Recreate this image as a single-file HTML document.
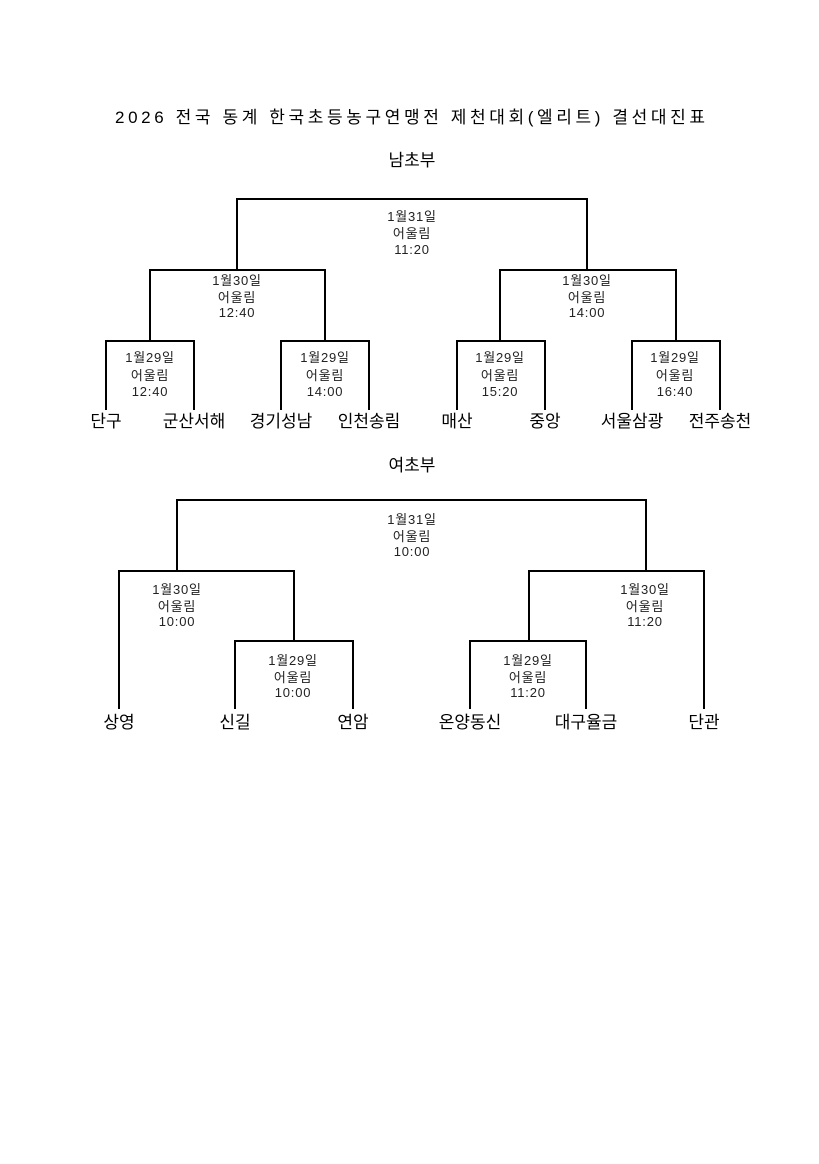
<!DOCTYPE html>
<html><head><meta charset="utf-8"><style>
html,body{margin:0;padding:0;background:#fff}
svg text{font-family:"Liberation Sans","Noto Sans CJK KR","NanumGothic",sans-serif}
</style></head><body>
<svg width="819" height="1159" xmlns="http://www.w3.org/2000/svg">
<g fill="none" stroke="#000" stroke-width="2">
<path d="M237,270 V199 H587 V270"/>
<path d="M150,341 V270 H325 V341"/>
<path d="M500,341 V270 H676 V341"/>
<path d="M106,410 V341 H194 V410"/>
<path d="M281,410 V341 H369 V410"/>
<path d="M457,410 V341 H545 V410"/>
<path d="M632,410 V341 H720 V410"/>
<path d="M177,571 V500 H646 V571"/>
<path d="M119,709 V571 H294 V641"/>
<path d="M235,709 V641 H353 V709"/>
<path d="M529,641 V571 H704 V709"/>
<path d="M470,709 V641 H586 V709"/>
</g>
<g font-size="17" text-anchor="middle" fill="#000">
<text x="410" y="123" textLength="590" lengthAdjust="spacing">2026 전국 동계 한국초등농구연맹전 제천대회(엘리트) 결선대진표</text>
<text x="412" y="166">남초부</text>
<text x="412" y="471">여초부</text>
<text x="106" y="427">단구</text>
<text x="194" y="427">군산서해</text>
<text x="281" y="427">경기성남</text>
<text x="369" y="427">인천송림</text>
<text x="457" y="427">매산</text>
<text x="545" y="427">중앙</text>
<text x="632" y="427">서울삼광</text>
<text x="720" y="427">전주송천</text>
<text x="119" y="728">상영</text>
<text x="235" y="728">신길</text>
<text x="353" y="728">연암</text>
<text x="470" y="728">온양동신</text>
<text x="586" y="728">대구율금</text>
<text x="704" y="728">단관</text>
</g>
<g font-size="13" letter-spacing="0.8" text-anchor="middle" fill="#222">
<text x="412" y="221">1월31일</text><text x="412" y="238">어울림</text><text x="412" y="254">11:20</text>
<text x="237" y="285">1월30일</text><text x="237" y="302">어울림</text><text x="237" y="317">12:40</text>
<text x="587" y="285">1월30일</text><text x="587" y="302">어울림</text><text x="587" y="317">14:00</text>
<text x="150" y="362">1월29일</text><text x="150" y="380">어울림</text><text x="150" y="396">12:40</text>
<text x="325" y="362">1월29일</text><text x="325" y="380">어울림</text><text x="325" y="396">14:00</text>
<text x="500" y="362">1월29일</text><text x="500" y="380">어울림</text><text x="500" y="396">15:20</text>
<text x="675" y="362">1월29일</text><text x="675" y="380">어울림</text><text x="675" y="396">16:40</text>
<text x="412" y="524">1월31일</text><text x="412" y="541">어울림</text><text x="412" y="556">10:00</text>
<text x="177" y="594">1월30일</text><text x="177" y="611">어울림</text><text x="177" y="626">10:00</text>
<text x="645" y="594">1월30일</text><text x="645" y="611">어울림</text><text x="645" y="626">11:20</text>
<text x="293" y="665">1월29일</text><text x="293" y="682">어울림</text><text x="293" y="697">10:00</text>
<text x="528" y="665">1월29일</text><text x="528" y="682">어울림</text><text x="528" y="697">11:20</text>
</g>
</svg>
</body></html>
